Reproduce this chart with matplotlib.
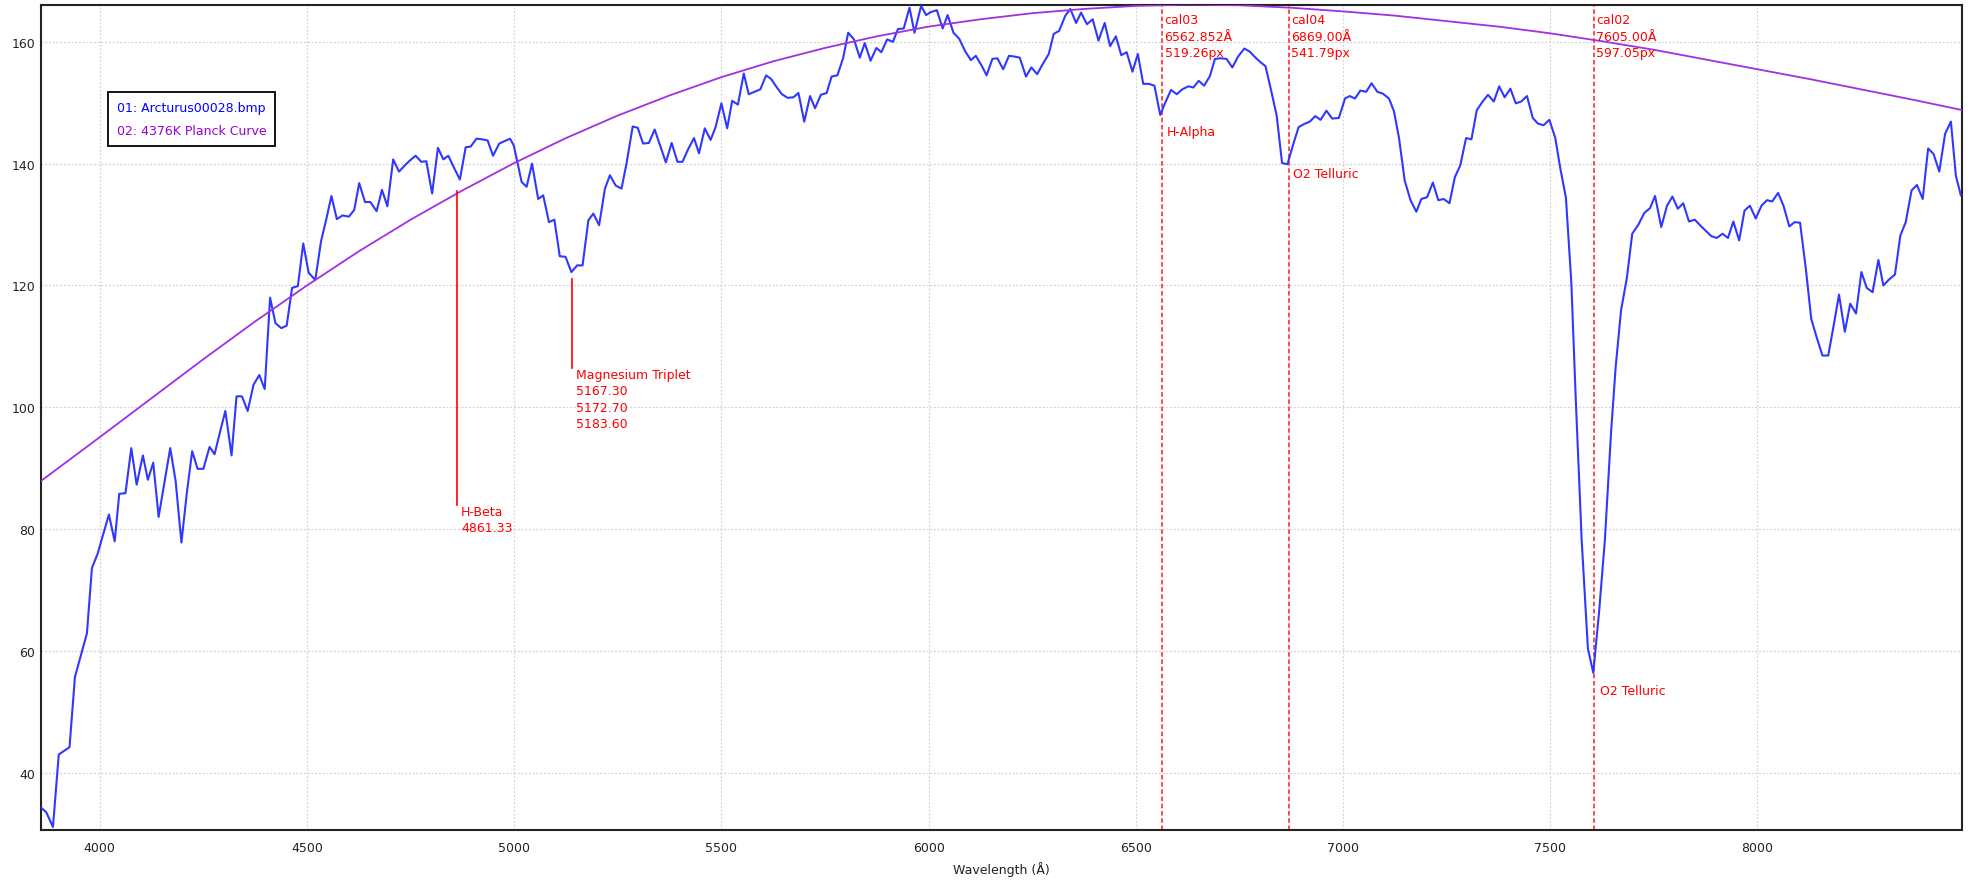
import matplotlib
matplotlib.use("Agg")
import matplotlib.pyplot as plt

plt.rcParams['font.family'] = ['DejaVu Sans']

# Arcturus spectrum (wavelength in Angstrom, intensity)
wavelength = [
    3858, 3871, 3887, 3901, 3927, 3940, 3969, 3981, 3995, 4022, 4036, 4047, 4062, 4076,
    4089, 4104, 4116, 4129, 4142, 4170, 4183, 4197, 4210, 4223, 4236, 4250, 4265, 4277,
    4290, 4303, 4318, 4330, 4343, 4357, 4371, 4385, 4398, 4411, 4424, 4438, 4451, 4464,
    4478, 4491, 4504, 4520, 4534, 4546, 4559, 4572, 4586, 4601, 4614, 4626, 4640, 4653,
    4668, 4681, 4694, 4708, 4722, 4736, 4748, 4762, 4776, 4788, 4802, 4816, 4829, 4841,
    4855, 4869, 4883, 4895, 4909, 4923, 4936, 4949, 4964, 4977, 4990, 4999, 5007, 5018,
    5030, 5043, 5058, 5070, 5084, 5097, 5110, 5124, 5138, 5152, 5165, 5179, 5191, 5205,
    5219, 5231, 5245, 5259, 5271, 5286, 5298, 5311, 5325, 5339, 5352, 5366, 5380, 5394,
    5406, 5420, 5434, 5446, 5460, 5474, 5486, 5500, 5514, 5526, 5540, 5554, 5566, 5580,
    5594, 5608, 5620, 5634, 5646, 5660, 5674, 5686, 5700, 5714, 5726, 5740, 5754, 5766,
    5780, 5794, 5806, 5820, 5834, 5846, 5860, 5874, 5886, 5900, 5914, 5926, 5940, 5954,
    5966, 5982, 5994, 6006, 6020, 6034, 6046, 6060, 6074, 6088, 6102, 6114, 6128, 6140,
    6154, 6166, 6180, 6194, 6206, 6220, 6235, 6248, 6262, 6275, 6290, 6302, 6315, 6330,
    6342, 6356, 6368, 6382, 6396, 6410, 6425, 6438, 6452, 6465, 6478, 6492, 6505, 6518,
    6532, 6545, 6559, 6571, 6585, 6599, 6612, 6627, 6639, 6652, 6665, 6679, 6691, 6705,
    6719, 6733, 6747, 6762, 6775, 6789, 6802, 6813, 6826, 6840, 6853, 6866, 6880, 6893,
    6906, 6920, 6933, 6946, 6960, 6974, 6990, 7005, 7016, 7029, 7042, 7056, 7069, 7083,
    7096, 7111, 7123, 7135, 7149, 7163, 7177, 7189, 7203, 7217, 7230, 7243, 7257, 7270,
    7283, 7297, 7310, 7323, 7337, 7350, 7364, 7377, 7390, 7404, 7417, 7430, 7444, 7458,
    7470, 7484, 7498, 7512, 7524, 7538, 7551, 7562, 7576, 7591, 7604, 7618, 7632, 7647,
    7658, 7671, 7685, 7698, 7713, 7727, 7741, 7753, 7768, 7782, 7795, 7808, 7821, 7835,
    7849, 7863, 7875, 7889, 7902, 7916, 7929, 7942, 7956, 7969, 7982, 7996, 8010, 8023,
    8036, 8050, 8063, 8077, 8090, 8103, 8117, 8130, 8143, 8157, 8171, 8184, 8197, 8211,
    8224, 8238, 8251, 8264, 8278, 8292, 8304, 8318, 8332, 8345, 8358, 8372, 8385, 8399,
    8412, 8425, 8439, 8453, 8467, 8479, 8491,
]
intensity = [
    34.3, 33.5, 31.1, 43.0, 44.2, 55.7, 62.9, 73.6, 76.0, 82.4, 78.0, 85.8, 85.9, 93.3,
    87.3, 92.1, 88.1, 90.9, 82.0, 93.3, 87.9, 77.8, 85.9, 92.8, 89.9, 89.9, 93.5, 92.3,
    95.9, 99.4, 92.1, 101.8, 101.8, 99.4, 103.7, 105.3, 103.0, 118.0, 113.8, 113.0, 113.4, 119.6,
    119.9, 126.9, 122.1, 120.9, 127.3, 130.7, 134.7, 130.9, 131.5, 131.3, 132.4, 136.8, 133.7, 133.7,
    132.2, 135.7, 133.0, 140.7, 138.7, 139.7, 140.5, 141.3, 140.3, 140.4, 135.1, 142.6, 140.7, 141.3,
    139.3, 137.4, 142.7, 142.8, 144.1, 144.0, 143.8, 141.3, 143.3, 143.7, 144.1, 143.0, 140.5, 137.0,
    136.2, 140.0, 134.2, 134.8, 130.4, 130.8, 124.8, 124.7, 122.2, 123.3, 123.3, 130.7, 131.8, 129.9,
    135.9, 138.1, 136.4, 135.9, 140.0, 146.1, 145.9, 143.3, 143.4, 145.6, 143.0, 140.2, 143.4, 140.3,
    140.3, 142.4, 144.2, 141.7, 145.8, 143.9, 146.0, 149.9, 145.8, 150.3, 149.7, 154.8, 151.4, 151.8,
    152.2, 154.5, 153.9, 152.5, 151.4, 150.8, 150.9, 151.6, 146.9, 151.1, 149.1, 151.3, 151.6, 154.3,
    154.5, 157.4, 161.5, 160.4, 157.4, 159.8, 156.9, 159.0, 158.3, 160.4, 160.0, 162.1, 162.2, 165.6,
    161.5, 165.9, 164.4, 164.9, 165.2, 162.2, 164.4, 161.5, 160.5, 158.5, 157.0, 157.7, 156.1, 154.5,
    157.2, 157.3, 155.5, 157.7, 157.6, 157.4, 154.3, 155.8, 154.7, 156.3, 158.0, 161.3, 161.8, 164.3,
    165.4, 163.1, 164.8, 162.9, 163.7, 160.2, 163.1, 159.3, 160.9, 157.8, 158.3, 155.1, 158.0, 153.1,
    153.1, 152.8, 148.0, 150.0, 152.1, 151.4, 152.2, 152.7, 152.5, 153.6, 152.8, 154.4, 157.2, 157.3,
    157.2, 155.8, 157.6, 158.9, 158.4, 157.4, 156.6, 156.0, 152.2, 147.9, 140.1, 139.9, 143.2, 146.0,
    146.5, 146.9, 147.8, 147.2, 148.7, 147.4, 147.5, 150.7, 151.1, 150.7, 152.0, 151.8, 153.2, 151.8,
    151.5, 150.7, 148.6, 144.3, 137.2, 134.0, 132.1, 134.2, 134.5, 136.9, 134.0, 134.2, 133.5, 137.8,
    139.7, 144.2, 144.0, 148.8, 150.2, 151.3, 150.2, 152.7, 150.9, 152.3, 149.9, 150.2, 151.1, 147.5,
    146.6, 146.3, 147.2, 144.3, 139.4, 134.4, 120.5, 100.9, 78.2, 60.4, 56.4, 66.4, 78.2, 96.0,
    106.6, 115.9, 121.2, 128.5, 130.0, 131.9, 132.7, 134.7, 129.6, 133.1, 134.6, 132.6, 133.5, 130.5,
    130.8, 129.8, 129.0, 128.1, 127.8, 128.5, 127.8, 130.5, 127.4, 132.3, 133.1, 131.0, 133.1, 134.0,
    133.8, 135.2, 133.1, 129.7, 130.4, 130.3, 122.7, 114.5, 111.5, 108.5, 108.5, 113.4, 118.5, 112.4,
    117.0, 115.4, 122.2, 119.6, 118.9, 124.2, 120.0, 121.0, 121.8, 128.2, 130.4, 135.6, 136.5, 134.2,
    142.5, 141.6, 138.7, 144.9, 146.9, 138.0, 134.8,
]

# 4376 K Planck reference curve, scaled to the spectrum
planck_wl = [3858, 4000, 4125, 4250, 4375, 4500, 4625, 4750, 4875, 5000, 5125, 5250, 5375,
             5500, 5625, 5750, 5875, 6000, 6125, 6250, 6375, 6500, 6625, 6750, 6875, 7000,
             7125, 7250, 7375, 7500, 7625, 7750, 7875, 8000, 8125, 8250, 8375, 8494]
planck_val = [87.9, 95.1, 101.5, 107.9, 114.1, 120.0, 125.6, 130.8, 135.6, 140.1, 144.2, 147.9, 151.2,
              154.2, 156.8, 159.0, 160.9, 162.5, 163.7, 164.7, 165.4, 165.9, 166.1, 166.0, 165.6, 165.0,
              164.3, 163.4, 162.5, 161.4, 160.1, 158.7, 157.1, 155.5, 153.9, 152.2, 150.5, 148.8]

legend_labels = ["01: Arcturus00028.bmp", "02: 4376K Planck Curve"]

# Calibration lines
cal_wl = [6562.852, 6869.00, 7605.00]
cal_labels = ["cal03\n6562.852Å\n519.26px", "cal04\n6869.00Å\n541.79px", "cal02\n7605.00Å\n597.05px"]

# Line identifications next to the calibration lines
line_names = ["H-Alpha", "O2 Telluric", "O2 Telluric"]
line_label_wl = [6575, 6880, 7621]
line_label_y = [146.3, 139.4, 54.6]

# Marker lines with labels underneath
marker_wl = [4861.33, 5140]
marker_top = [135.5, 121.1]
marker_bottom = [84.0, 106.5]
marker_labels = ["H-Beta\n4861.33", "Magnesium Triplet\n5167.30\n5172.70\n5183.60"]

x_ticks = [4000, 4500, 5000, 5500, 6000, 6500, 7000, 7500, 8000]
y_ticks = [40, 60, 80, 100, 120, 140, 160]

RED = "#ff0000"
BLUE = "#3038ff"
PURPLE = "#a030e0"

fig = plt.figure(figsize=(19.68, 8.87), dpi=100)
ax = fig.add_axes([0.0208, 0.0631, 0.9762, 0.9305])

ax.set_xlim(3858, 8494)
ax.set_ylim(30.6, 166.1)
ax.set_xticks(x_ticks)
ax.set_yticks(y_ticks)
ax.grid(True, color="#d2d2d2", linestyle=(0, (1.5, 1.5)), linewidth=0.9)
ax.set_axisbelow(True)

for x in cal_wl:
    ax.axvline(x, color="#ff3b3b", linestyle=(0, (2.5, 1.5)), linewidth=1.3, zorder=2)

spec, = ax.plot(wavelength, intensity, color=BLUE, linewidth=1.5, zorder=3)
planck, = ax.plot(planck_wl, planck_val, color=PURPLE, linewidth=1.3, zorder=3)

for x, lab in zip(cal_wl, cal_labels):
    ax.annotate(lab, xy=(x, 1), xycoords=("data", "axes fraction"),
                xytext=(2, -6), textcoords="offset points",
                ha="left", va="top", color=RED, fontsize=9, linespacing=1.35, zorder=5)

for x, y, lab in zip(line_label_wl, line_label_y, line_names):
    ax.text(x, y, lab, ha="left", va="top", color=RED, fontsize=9, zorder=5)

for x, top, bot, lab in zip(marker_wl, marker_top, marker_bottom, marker_labels):
    ax.plot([x, x], [bot, top], color=RED, linewidth=1.2, zorder=4)
    ax.annotate(lab, xy=(x, bot), xytext=(3, 0), textcoords="offset points",
                ha="left", va="top", color=RED, fontsize=9, linespacing=1.35, zorder=5)

leg = ax.legend([spec, planck], legend_labels, loc="upper left",
                bbox_to_anchor=(0.0349, 0.8942), borderaxespad=0,
                handlelength=0, handletextpad=0, fontsize=9, labelspacing=0.85,
                borderpad=0.7, fancybox=False, framealpha=1)
leg.get_frame().set_edgecolor("black")
leg.get_frame().set_linewidth(1.3)
for h in leg.legend_handles:
    h.set_visible(False)
leg.get_texts()[0].set_color("#0000ff")
leg.get_texts()[1].set_color("#9900cc")

for side in ["left", "bottom", "top", "right"]:
    ax.spines[side].set_color("#222222")
    ax.spines[side].set_linewidth(1.5)

ax.tick_params(axis="both", length=0, labelsize=9, labelcolor="#222222")
ax.tick_params(axis="x", pad=8)
ax.tick_params(axis="y", pad=4)
ax.set_xlabel("Wavelength (Å)", fontsize=9, color="#222222", labelpad=5)

fig.savefig("out.png", dpi=100, facecolor="white")
